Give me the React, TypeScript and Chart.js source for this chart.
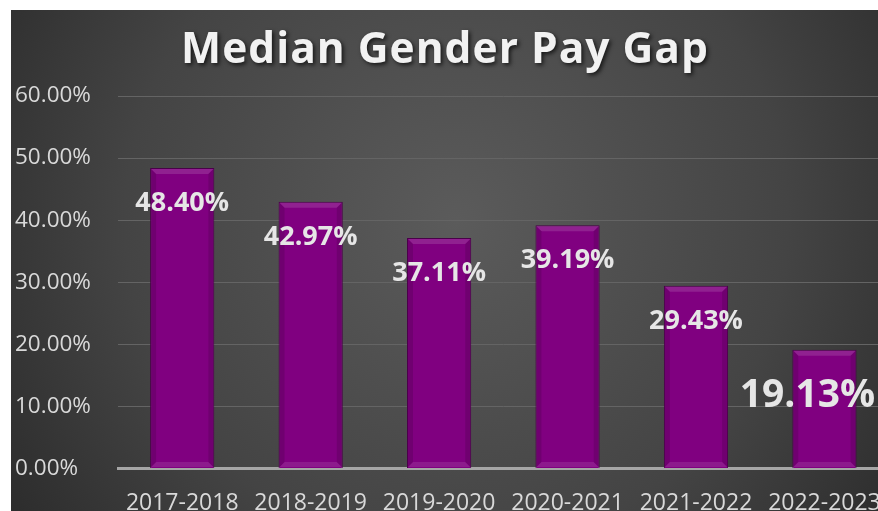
import { useEffect, useRef } from "react";
import { Chart, registerables } from "chart.js";

Chart.register(...registerables);

const chartTitle = "Median Gender Pay Gap";
const categories = ["2017-2018", "2018-2019", "2019-2020", "2020-2021", "2021-2022", "2022-2023"];
const payGap = [48.4, 42.97, 37.11, 39.19, 29.43, 19.13];
const valueLabels = ["48.40%", "42.97%", "37.11%", "39.19%", "29.43%", "19.13%"];
const yMin = 0;
const yMax = 60;
const yStep = 10;

const FONT = '"Open Sans", "Noto Sans", sans-serif';

const backgroundPlugin = {
  id: "panelBackground",
  beforeDraw(chart: any) {
    const { ctx, width, height } = chart;
    const cx = width * 0.5;
    const cy = height * 0.42;
    const g = ctx.createRadialGradient(cx, cy, 0, cx, cy, width * 0.62);
    g.addColorStop(0, "#5b5b5b");
    g.addColorStop(0.6, "#444444");
    g.addColorStop(1, "#2a2a2a");
    ctx.save();
    ctx.fillStyle = g;
    ctx.fillRect(0, 0, width, height);
    ctx.restore();
  },
};

const titlePlugin = {
  id: "shadowTitle",
  afterDraw(chart: any, _args: any, opts: any) {
    const { ctx } = chart;
    ctx.save();
    ctx.font = `bold ${opts.size}px ${FONT}`;
    try {
      (ctx as any).letterSpacing = opts.spacing + "px";
    } catch (e) {}
    ctx.textAlign = "center";
    ctx.textBaseline = "alphabetic";
    ctx.shadowColor = "rgba(0,0,0,0.7)";
    ctx.shadowBlur = 4;
    ctx.shadowOffsetX = 2;
    ctx.shadowOffsetY = 2;
    ctx.fillStyle = "#f2f2f2";
    ctx.fillText(opts.text, opts.cx, opts.baseline);
    ctx.restore();
  },
};

const bevelPlugin = {
  id: "barBevel",
  afterDatasetsDraw(chart: any) {
    const { ctx } = chart;
    const meta = chart.getDatasetMeta(0);
    ctx.save();
    meta.data.forEach((bar: any) => {
      const { x, y, base, width } = bar.getProps(["x", "y", "base", "width"], true);
      const l = x - width / 2 + 1;
      const r = x + width / 2 - 1;
      const t = y + 1;
      const b = base - 1;
      const d = 5;
      ctx.fillStyle = "rgba(255,255,255,0.13)";
      ctx.beginPath();
      ctx.moveTo(l, t);
      ctx.lineTo(r, t);
      ctx.lineTo(r - d, t + d);
      ctx.lineTo(l + d, t + d);
      ctx.closePath();
      ctx.fill();
      ctx.fillStyle = "rgba(255,255,255,0.10)";
      ctx.beginPath();
      ctx.moveTo(l, b);
      ctx.lineTo(r, b);
      ctx.lineTo(r - d, b - d);
      ctx.lineTo(l + d, b - d);
      ctx.closePath();
      ctx.fill();
      ctx.fillStyle = "rgba(0,0,0,0.12)";
      ctx.beginPath();
      ctx.moveTo(l, t);
      ctx.lineTo(l + d, t + d);
      ctx.lineTo(l + d, b - d);
      ctx.lineTo(l, b);
      ctx.closePath();
      ctx.fill();
      ctx.beginPath();
      ctx.moveTo(r, t);
      ctx.lineTo(r - d, t + d);
      ctx.lineTo(r - d, b - d);
      ctx.lineTo(r, b);
      ctx.closePath();
      ctx.fill();
    });
    ctx.restore();
  },
};

const valueLabelPlugin = {
  id: "valueLabels",
  afterDatasetsDraw(chart: any, _args: any, opts: any) {
    const { ctx } = chart;
    const meta = chart.getDatasetMeta(0);
    ctx.save();
    ctx.textAlign = "center";
    ctx.textBaseline = "alphabetic";
    ctx.fillStyle = "#e6e6e6";
    meta.data.forEach((bar: any, i: number) => {
      const st = opts.styles[i] || opts.styles[0];
      ctx.font = `bold ${st.size}px ${FONT}`;
      ctx.fillText(valueLabels[i], bar.x + st.dx, bar.y + st.dy);
    });
    ctx.restore();
  },
};

export default function App() {
  const ref = useRef<HTMLCanvasElement | null>(null);

  useEffect(() => {
    if (!ref.current) return;
    const normal = { size: 27, dx: 0, dy: 43 };
    const chart = new Chart(ref.current, {
      type: "bar",
      data: {
        labels: categories,
        datasets: [
          {
            data: payGap,
            backgroundColor: "#800080",
            borderColor: "#4a004a",
            borderWidth: 1,
            categoryPercentage: 1,
            barPercentage: 0.5,
          },
        ],
      },
      plugins: [backgroundPlugin, bevelPlugin, valueLabelPlugin, titlePlugin],
      options: {
        animation: false,
        responsive: false,
        devicePixelRatio: 1,
        layout: { padding: { left: 4, right: 3, top: 86, bottom: 0 } },
        plugins: {
          legend: { display: false },
          tooltip: { enabled: false },
          title: { display: false },
          shadowTitle: { text: chartTitle, size: 42.5, spacing: 1, baseline: 53, cx: 434 },
          valueLabels: {
            styles: [normal, normal, normal, normal, normal, { size: 39, dx: -17, dy: 57 }],
          },
        } as any,
        scales: {
          x: {
            grid: { display: false, drawTicks: false },
            border: { display: true, color: "#a6a6a6", width: 3 },
            ticks: {
              color: "#d9d9d9",
              font: { family: FONT, size: 23 },
              padding: 21,
              maxRotation: 0,
              autoSkip: false,
            },
            afterFit(scale: any) {
              scale.height = 42.5;
            },
          },
          y: {
            min: yMin,
            max: yMax,
            grid: { color: "#646464", lineWidth: 1, drawTicks: false },
            border: { display: false },
            ticks: {
              stepSize: yStep,
              color: "#d9d9d9",
              font: { family: FONT, size: 22.5 },
              crossAlign: "far",
              padding: 0,
              callback: (v: any) => Number(v).toFixed(2) + "%",
            },
            afterFit(scale: any) {
              scale.width = 103;
            },
          },
        },
      },
    });
    return () => chart.destroy();
  }, []);

  return (
    <div
      style={{
        position: "fixed",
        left: 0,
        top: 0,
        width: 878,
        height: 511,
        overflow: "hidden",
        background: "#ffffff",
      }}
    >
      <canvas ref={ref} width={891} height={501} style={{ position: "absolute", left: 11, top: 10 }} />
    </div>
  );
}
